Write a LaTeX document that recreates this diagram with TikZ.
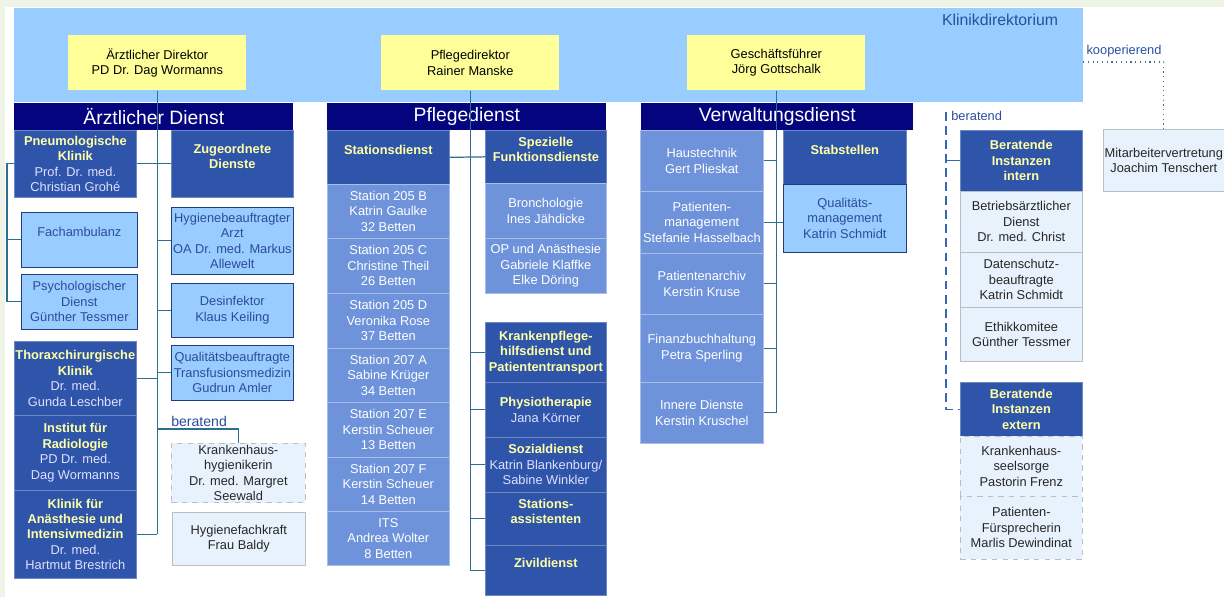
\documentclass[tikz,border=0pt]{standalone}
\usepackage{fontspec}
\setmainfont{Liberation Sans}

\definecolor{bggreen}{HTML}{EEF5E6}
\definecolor{panelblue}{HTML}{99CCFF}
\definecolor{diryellow}{HTML}{FFFF99}
\definecolor{barnavy}{HTML}{04047E}
\definecolor{dkblue}{HTML}{2F55AA}
\definecolor{mdblue}{HTML}{6E93DB}
\definecolor{ltblue}{HTML}{99CCFF}
\definecolor{vlblue}{HTML}{E8F2FC}
\definecolor{hdyellow}{HTML}{FFFFA8}
\definecolor{lttext}{HTML}{2B4C9B}
\definecolor{ttlblue}{HTML}{2750A0}
\definecolor{linecol}{HTML}{2E6E8E}
\definecolor{dashcol}{HTML}{3A66B0}

\newcommand\hd[1]{\textbf{\color{hdyellow}#1}}

\tikzset{
  box/.style={draw, anchor=north west, minimum width=2.44cm, inner xsep=0pt, inner ysep=1pt,
    align=center, font=\fontsize{7.3}{8.8}\selectfont},
  dark/.style={box, fill=dkblue, draw=dkblue!70!white, text=white!88!blue},
  mid/.style={box, fill=mdblue, draw=mdblue!60!white, text=white},
  light/.style={box, fill=ltblue, draw=lttext!80!black, text=lttext},
  pale/.style={box, fill=vlblue, draw=vlblue!55!gray, text=black!85},
  paledash/.style={pale, dashed},
  bar/.style={anchor=north west, fill=barnavy, text=white, minimum height=0.54cm, inner sep=0pt,
    font=\fontsize{11}{13}\selectfont},
  direktor/.style={anchor=north west, fill=diryellow, minimum width=3.56cm, minimum height=1.1cm,
    inner sep=0pt, align=center, font=\fontsize{7.3}{8.8}\selectfont},
  conn/.style={draw=linecol, line width=0.7pt},
  dashline/.style={draw=dashcol, line width=0.7pt, dash pattern=on 5pt off 3pt},
  dotline/.style={draw=linecol!70!gray, line width=0.7pt, dotted},
  note/.style={text=lttext, inner sep=0pt, font=\fontsize{8}{9}\selectfont}
}

\begin{document}
\begin{tikzpicture}[x=0.02cm, y=-0.02cm]
\useasboundingbox (0,0) rectangle (1224,597);
\fill[bggreen] (0,0) rectangle (1224,597);
\fill[white] (5,7) rectangle (1224,597);

% Klinikdirektorium
\node[anchor=north west, fill=panelblue, minimum width=21.38cm, minimum height=1.88cm, inner sep=0pt] (kd) at (14,8) {};
\node[text=ttlblue, font=\fontsize{9}{11}\selectfont] (kdT) at (1000,20) {Klinikdirektorium};

\node[direktor] (aedir) at (68,35) {Ärztlicher Direktor\\PD Dr. Dag Wormanns};
\node[direktor] (pfdir) at (381,35) {Pflegedirektor\\Rainer Manske};
\node[direktor] (gf) at (687,35) {Geschäftsführer\\Jörg Gottschalk};

\node[bar, minimum width=5.58cm] (aebar) at (14,103) {Ärztlicher Dienst};
\node[bar, minimum width=5.58cm] (pfbar) at (327,103) {Pflegedienst};
\node[bar, minimum width=5.44cm] (vwbar) at (641,103) {Verwaltungsdienst};

% Aerztlicher Dienst
\node[dark, minimum height=1.34cm] (pneumo) at (14,130) {\hd{Pneumologische}\\\hd{Klinik}\\Prof. Dr. med.\\Christian Grohé};
\node[light, minimum width=2.32cm, minimum height=1.1cm] (fach) at (21,212) {Fachambulanz\\~};
\node[light, minimum width=2.32cm, minimum height=1.1cm] (psych) at (21,274) {Psychologischer\\Dienst\\Günther Tessmer};
\node[dark, minimum height=1.48cm] (thorax) at (14,341) {\hd{Thoraxchirurgische}\\\hd{Klinik}\\Dr. med.\\Gunda Leschber};
\node[dark, minimum height=1.5cm] (radio) at (14,415) {\hd{Institut für}\\\hd{Radiologie}\\PD Dr. med.\\Dag Wormanns};
\node[dark, minimum height=1.76cm] (anaes) at (14,490) {\hd{Klinik für}\\\hd{Anästhesie und}\\\hd{Intensivmedizin}\\Dr. med.\\Hartmut Brestrich};

\node[dark, minimum height=1.34cm] (zug) at (171,130) {\hd{Zugeordnete}\\\hd{Dienste}\\~};
\node[light, minimum height=1.34cm] (hyg) at (171,207) {Hygienebeauftragter\\Arzt\\OA Dr. med. Markus\\Allewelt};
\node[light, minimum height=1.08cm] (desi) at (171,283) {Desinfektor\\Klaus Keiling};
\node[light, minimum height=1.1cm] (quali) at (171,345) {Qualitätsbeauftragte\\Transfusionsmedizin\\Gudrun Amler};
\node[note, anchor=south west] (ber1T) at (171,427) {beratend};
\node[paledash, minimum width=2.68cm, minimum height=1.08cm] (khh) at (171,443) {Krankenhaus-\\hygienikerin\\Dr. med. Margret\\Seewald};
\node[pale, minimum width=2.66cm, minimum height=1.06cm] (hfk) at (172,512) {Hygienefachkraft\\Frau Baldy};

% Pflegedienst
\node[dark, minimum height=1.08cm] (stat) at (327,130) {\hd{Stationsdienst}\\~};
\node[mid, minimum height=1.08cm] (s205b) at (327,184) {Station 205 B\\Katrin Gaulke\\32 Betten};
\node[mid, minimum height=1.1cm] (s205c) at (327,238) {Station 205 C\\Christine Theil\\26 Betten};
\node[mid, minimum height=1.1cm] (s205d) at (327,293) {Station 205 D\\Veronika Rose\\37 Betten};
\node[mid, minimum height=1.08cm] (s207a) at (327,348) {Station 207 A\\Sabine Krüger\\34 Betten};
\node[mid, minimum height=1.1cm] (s207e) at (327,402) {Station 207 E\\Kerstin Scheuer\\13 Betten};
\node[mid, minimum height=1.08cm] (s207f) at (327,457) {Station 207 F\\Kerstin Scheuer\\14 Betten};
\node[mid, minimum height=1.08cm] (its) at (327,511) {ITS\\Andrea Wolter\\8 Betten};

\node[dark, minimum width=2.42cm, minimum height=1.06cm] (spez) at (485,130) {\hd{Spezielle}\\\hd{Funktionsdienste}\\~};
\node[mid, minimum width=2.42cm, minimum height=1.1cm] (broncho) at (485,183) {Bronchologie\\Ines Jähdicke};
\node[mid, minimum width=2.42cm, minimum height=1.1cm] (op) at (485,238) {OP und Anästhesie\\Gabriele Klaffke\\Elke Döring};
\node[dark, minimum width=2.42cm, minimum height=1.2cm] (kph) at (485,322) {\hd{Krankenpflege-}\\\hd{hilfsdienst und}\\\hd{Patiententransport}};
\node[dark, minimum width=2.42cm, minimum height=1.1cm] (physio) at (485,382) {\hd{Physiotherapie}\\Jana Körner};
\node[dark, minimum width=2.42cm, minimum height=1.1cm] (sozial) at (485,437) {\hd{Sozialdienst}\\Katrin Blankenburg/\\Sabine Winkler};
\node[dark, minimum width=2.42cm, minimum height=1.06cm] (stass) at (485,492) {\hd{Stations-}\\\hd{assistenten}\\~};
\node[dark, minimum width=2.42cm, minimum height=1cm] (zivi) at (485,545) {\hd{Zivildienst}\\~};

% Verwaltungsdienst
\node[mid, minimum width=2.46cm, minimum height=1.22cm] (haus) at (640,130) {Haustechnik\\Gert Plieskat};
\node[mid, minimum width=2.46cm, minimum height=1.24cm] (patm) at (640,191) {Patienten-\\management\\Stefanie Hasselbach};
\node[mid, minimum width=2.46cm, minimum height=1.22cm] (parch) at (640,253) {Patientenarchiv\\Kerstin Kruse};
\node[mid, minimum width=2.46cm, minimum height=1.36cm] (finanz) at (640,314) {Finanzbuchhaltung\\Petra Sperling};
\node[mid, minimum width=2.46cm, minimum height=1.22cm] (innere) at (640,382) {Innere Dienste\\Kerstin Kruschel};
\node[dark, minimum width=2.46cm, minimum height=1.08cm] (stab) at (783,130) {\hd{Stabstellen}\\~};
\node[light, minimum width=2.46cm, minimum height=1.36cm] (qm) at (783,184) {Qualitäts-\\management\\Katrin Schmidt};

% beratende Instanzen
\node[note, anchor=west, font=\fontsize{7.3}{9}\selectfont] (ber2T) at (951,116) {beratend};
\node[dark, minimum height=1.22cm] (bii) at (960,130) {\hd{Beratende}\\\hd{Instanzen}\\\hd{intern}};
\node[pale, minimum height=1.22cm] (bad) at (960,191) {Betriebsärztlicher\\Dienst\\Dr. med. Christ};
\node[pale, minimum height=1.1cm] (dsb) at (960,252) {Datenschutz-\\beauftragte\\Katrin Schmidt};
\node[pale, minimum height=1.08cm] (ethik) at (960,307) {Ethikkomitee\\Günther Tessmer};
\node[dark, minimum height=1.08cm] (bie) at (960,382) {\hd{Beratende}\\\hd{Instanzen}\\\hd{extern}};
\node[paledash, minimum height=1.2cm] (seel) at (960,436) {Krankenhaus-\\seelsorge\\Pastorin Frenz};
\node[paledash, minimum height=1.26cm] (pfs) at (960,496) {Patienten-\\Fürsprecherin\\Marlis Dewindinat};

\node[pale, minimum width=2.42cm, minimum height=1.24cm] (mav) at (1103,129) {Mitarbeitervertretung\\Joachim Tenschert};
\node[text=ttlblue, font=\fontsize{7.3}{9}\selectfont] (koopT) at (1124,51) {kooperierend};

% Linien Aerztlicher Dienst
\draw[conn] (aedir.south) -- (aedir.south |- anaes.east);
\draw[conn] (pneumo.east) -- (zug.west);
\foreach \n in {hyg,desi,quali} \draw[conn] (\n.west) -- (\n.west -| aedir.south);
\foreach \n in {thorax,anaes} \draw[conn] (\n.east) -- (\n.east -| aedir.south);
\coordinate (lsp) at (7,0);
\draw[conn] (pneumo.west) -- (pneumo.west -| lsp) |- (psych.west);
\draw[conn] (fach.west) -- (fach.west -| lsp);
\coordinate (ber1) at (157,429);
\draw[conn] (ber1) -| (khh.north);

% Linien Pflegedienst
\draw[conn] (pfdir.south) -- (pfdir.south |- zivi.west);
\draw[conn] (stat.east) -- (spez.west);
\foreach \n in {kph,physio,sozial,stass,zivi} \draw[conn] (\n.west) -- (\n.west -| pfdir.south);

% Linien Verwaltungsdienst
\draw[conn] (gf.south) -- (gf.south |- innere.east);
\foreach \n in {haus,patm,parch,finanz,innere} \draw[conn] (\n.east) -- (\n.east -| gf.south);
\draw[conn] (patm.east -| gf.south) -- (patm.east -| qm.west);

% beratend / kooperierend
\coordinate (ber2) at (946,112);
\draw[dashline] (ber2) |- (bie.west);
\draw[conn, draw=dashcol] (bii.west) -- (bii.west -| ber2);
\coordinate (koop) at (1083,62);
\draw[dotline] (koop) -| (mav.north);
\end{tikzpicture}
\end{document}
